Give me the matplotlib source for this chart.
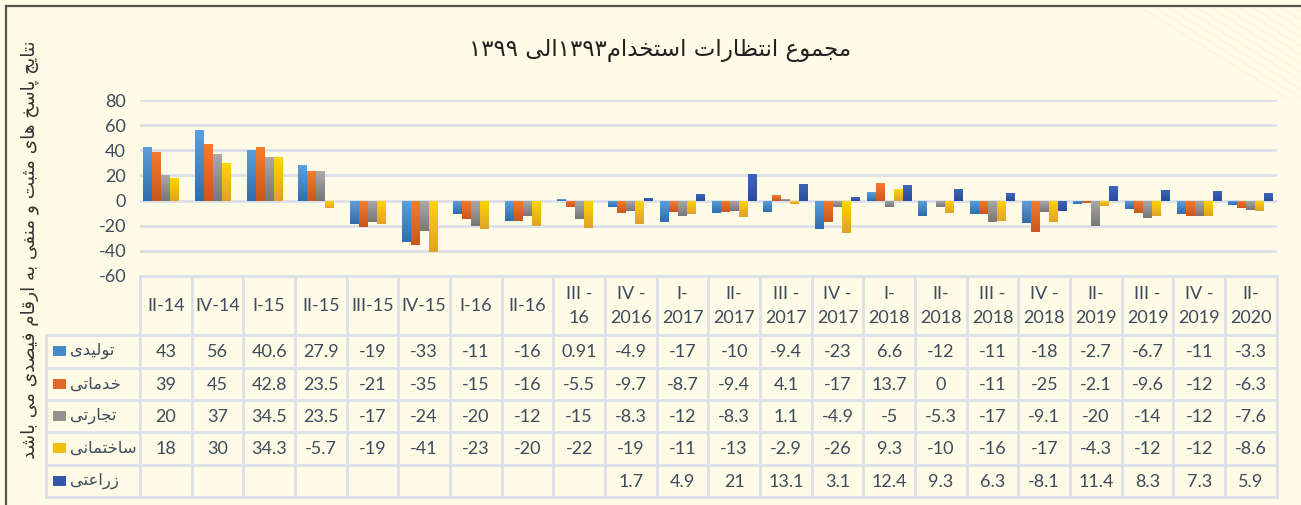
import re
import numpy as np
import matplotlib
matplotlib.use('Agg')
import matplotlib.pyplot as plt
from matplotlib.colors import to_rgb
from matplotlib.lines import Line2D
from matplotlib.patches import Rectangle
from matplotlib.transforms import blended_transform_factory

plt.rcParams['axes.unicode_minus'] = False
plt.rcParams['font.family'] = ['Lato', 'DejaVu Sans']

# data
quarters = ['II-14', 'IV-14', 'I-15', 'II-15', 'III-15', 'IV-15', 'I-16', 'II-16',
            'III -\n16', 'IV -\n2016', 'I-\n2017', 'II-\n2017', 'III -\n2017', 'IV -\n2017',
            'I-\n2018', 'II-\n2018', 'III -\n2018', 'IV -\n2018', 'II-\n2019', 'III -\n2019',
            'IV -\n2019', 'II-\n2020']
series_names = ['تولیدی', 'خدماتی', 'تجارتی', 'ساختمانی', 'زراعتی']
tolidi = [43, 56, 40.6, 27.9, -19, -33, -11, -16, 0.91, -4.9, -17, -10, -9.4, -23, 6.6, -12,
          -11, -18, -2.7, -6.7, -11, -3.3]
khadamati = [39, 45, 42.8, 23.5, -21, -35, -15, -16, -5.5, -9.7, -8.7, -9.4, 4.1, -17, 13.7, 0,
             -11, -25, -2.1, -9.6, -12, -6.3]
tejarati = [20, 37, 34.5, 23.5, -17, -24, -20, -12, -15, -8.3, -12, -8.3, 1.1, -4.9, -5, -5.3,
            -17, -9.1, -20, -14, -12, -7.6]
sakhtemani = [18, 30, 34.3, -5.7, -19, -41, -23, -20, -22, -19, -11, -13, -2.9, -26, 9.3, -10,
              -16, -17, -4.3, -12, -12, -8.6]
zeraati = [None] * 9 + [1.7, 4.9, 21, 13.1, 3.1, 12.4, 9.3, 6.3, -8.1, 11.4, 8.3, 7.3, 5.9]
yticks = [-60, -40, -20, 0, 20, 40, 60, 80]

title = 'مجموع انتظارات استخدام۱۳۹۳الی ۱۳۹۹'
ylabel = 'نتایج پاسخ های مثبت و منفی به ارقام فیصدی می باشد'

all_series = [tolidi, khadamati, tejarati, sakhtemani, zeraati]
tops = ['#5DA0DC', '#F57D2C', '#AAAAAA', '#FFD600', '#3C66BA']
bottoms = ['#2E6DAE', '#C9561D', '#777777', '#E0A12A', '#2A4C98']
mids = ['#478AC8', '#E06A25', '#919191', '#F2BC14', '#3358A9']

bg = '#FEFCE6'
grid_c = '#DCE0E8'
txt_c = '#3E4A5E'

# --- tiny arabic shaper (matplotlib has no shaping / bidi) ---
FORMS = {
    '\u0627': ('\uFE8D', '\uFE8E', None, None),
    '\u0628': ('\uFE8F', '\uFE90', '\uFE91', '\uFE92'),
    '\u067E': ('\uFB56', '\uFB57', '\uFB58', '\uFB59'),
    '\u062A': ('\uFE95', '\uFE96', '\uFE97', '\uFE98'),
    '\u062B': ('\uFE99', '\uFE9A', '\uFE9B', '\uFE9C'),
    '\u062C': ('\uFE9D', '\uFE9E', '\uFE9F', '\uFEA0'),
    '\u062E': ('\uFEA5', '\uFEA6', '\uFEA7', '\uFEA8'),
    '\u062F': ('\uFEA9', '\uFEAA', None, None),
    '\u0631': ('\uFEAD', '\uFEAE', None, None),
    '\u0632': ('\uFEAF', '\uFEB0', None, None),
    '\u0633': ('\uFEB1', '\uFEB2', '\uFEB3', '\uFEB4'),
    '\u0634': ('\uFEB5', '\uFEB6', '\uFEB7', '\uFEB8'),
    '\u0635': ('\uFEB9', '\uFEBA', '\uFEBB', '\uFEBC'),
    '\u0638': ('\uFEC5', '\uFEC6', '\uFEC7', '\uFEC8'),
    '\u0639': ('\uFEC9', '\uFECA', '\uFECB', '\uFECC'),
    '\u0641': ('\uFED1', '\uFED2', '\uFED3', '\uFED4'),
    '\u0642': ('\uFED5', '\uFED6', '\uFED7', '\uFED8'),
    '\u0644': ('\uFEDD', '\uFEDE', '\uFEDF', '\uFEE0'),
    '\u0645': ('\uFEE1', '\uFEE2', '\uFEE3', '\uFEE4'),
    '\u0646': ('\uFEE5', '\uFEE6', '\uFEE7', '\uFEE8'),
    '\u0647': ('\uFEE9', '\uFEEA', '\uFEEB', '\uFEEC'),
    '\u0648': ('\uFEED', '\uFEEE', None, None),
    '\u06CC': ('\uFBFC', '\uFBFD', '\uFBFE', '\uFBFF'),
}


def shape(text):
    out = []
    for i, c in enumerate(text):
        if c not in FORMS:
            out.append(c)
            continue
        iso, fin, ini, med = FORMS[c]
        prev = text[i - 1] if i > 0 else ''
        nxt = text[i + 1] if i + 1 < len(text) else ''
        before = prev in FORMS and FORMS[prev][2] is not None
        after = nxt in FORMS and ini is not None
        if before and after:
            out.append(med)
        elif before:
            out.append(fin)
        elif after:
            out.append(ini)
        else:
            out.append(iso)
    return ''.join(out)


def rtl(text):
    s = shape(text)
    runs = re.findall(r'[0-9\u06F0-\u06F9.]+|[^0-9\u06F0-\u06F9.]+', s)
    res = ''
    for r in reversed(runs):
        if re.match(r'[0-9\u06F0-\u06F9]', r):
            res += r
        else:
            res += r[::-1]
    return res


W, H = 1301, 505
fig = plt.figure(figsize=(W / 100, H / 100), dpi=100)
fig.patch.set_facecolor(bg)

x_left, x_right = 140, 1276.7
y_top, y_bot = 100, 276
ax = fig.add_axes([x_left / W, 1 - y_bot / H, (x_right - x_left) / W, (y_bot - y_top) / H])
ax.set_facecolor('none')

n = len(quarters)
x = np.arange(n)
bw = 0.174
for k, vals in enumerate(all_series):
    v = np.array([np.nan if a is None else a for a in vals], dtype=float)
    xs = x + (k - 2) * bw
    ok = ~np.isnan(v)
    bars = ax.bar(xs[ok], v[ok], width=bw, color=mids[k], linewidth=0, zorder=3)
    t = np.array(to_rgb(tops[k]))
    b = np.array(to_rgb(bottoms[k]))
    g = np.linspace(0, 1, 64)[:, None, None]
    grad = t * (1 - g) + b * g
    for bar in bars:
        x0 = bar.get_x()
        y0, y1 = sorted([0, bar.get_height()])
        if y1 - y0 == 0:
            continue
        im = ax.imshow(grad, extent=[x0, x0 + bw, y0, y1], aspect='auto', zorder=4,
                       interpolation='bilinear')
        im.set_clip_path(bar)

ax.set_xlim(-0.5, n - 0.5)
ax.set_ylim(-60, 80)
ax.set_yticks(yticks)
ax.set_yticklabels([str(t) for t in yticks])
ax.set_xticks([])
ax.yaxis.grid(True, color=grid_c, lw=2)
ax.set_axisbelow(True)
for s in ax.spines.values():
    s.set_visible(False)
ax.tick_params(axis='y', length=0, pad=10, labelsize=13, labelcolor=txt_c)

# --- data table under the chart ---
bt = blended_transform_factory(ax.transData, fig.transFigure)


def fy(px):
    return 1 - px / H


rows_y = [335, 367.5, 400, 432.3, 464.5, 497]
for i in range(n + 1):
    ax.plot([i - 0.5, i - 0.5], [fy(276), fy(497)], transform=bt, color=grid_c, lw=2,
            clip_on=False, zorder=1)
ax.plot([-0.5, n - 0.5], [fy(276), fy(276)], transform=bt, color=grid_c, lw=2, clip_on=False)
for ry in rows_y:
    fig.add_artist(Line2D([46 / W, x_right / W], [fy(ry), fy(ry)], color=grid_c, lw=2))
fig.add_artist(Line2D([46 / W, 46 / W], [fy(335), fy(497)], color=grid_c, lw=2))

for i, q in enumerate(quarters):
    ax.text(i, fy(306), q, transform=bt, ha='center', va='center', fontsize=13,
            color=txt_c, linespacing=1.55)

for k, vals in enumerate(all_series):
    cy = (rows_y[k] + rows_y[k + 1]) / 2
    for i, v in enumerate(vals):
        if v is None:
            continue
        ax.text(i, fy(cy + 1), f'{v:g}', transform=bt, ha='center', va='center',
                fontsize=13, color=txt_c)
    fig.add_artist(Rectangle((53 / W, fy(cy + 5)), 13 / W, 10 / H, transform=fig.transFigure,
                             facecolor=mids[k], edgecolor='none'))
    fig.text(70 / W, fy(cy), rtl(series_names[k]), ha='left', va='center', fontsize=11.8,
             color=txt_c, family=['DejaVu Sans'])

# titles
fig.text(660 / W, fy(51), rtl(title), ha='center', va='center', fontsize=16.5, color='#222222',
         family=['DejaVu Sans'])
fig.text(30 / W, fy(250), rtl(ylabel), ha='center', va='center', rotation=90, fontsize=13.2,
         color='#333333', family=['DejaVu Sans'])

# frame lines of the slide
fig.add_artist(Line2D([6 / W, 6 / W], [0, fy(6)], color='#555555', lw=1.6))
fig.add_artist(Line2D([6 / W, 1], [fy(6), fy(6)], color='#555555', lw=1.6))

# faint diagonal hatch top right
for k in range(12):
    x0 = 1140 + k * 14
    fig.add_artist(Line2D([x0 / W, (x0 + 150) / W], [fy(7), fy(100)], color='#F7F3D9', lw=0.6,
                          zorder=0))

fig.savefig('out.png', dpi=100, facecolor=bg)
